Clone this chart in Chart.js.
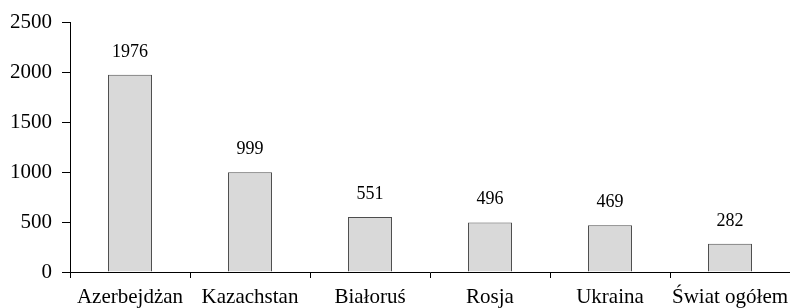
<!DOCTYPE html>
<html lang="pl">
<head>
    <meta charset="UTF-8">
    <title>Wykres</title>
    <style>
        html, body { margin: 0; padding: 0; background: #fff; }
        #wrap { width: 790px; height: 308px; }
    </style>
    <script src="https://cdn.jsdelivr.net/npm/chart.js"></script>
</head>
<body>
    <div id="wrap"><canvas id="chart" width="790" height="308"></canvas></div>

    <script>
        const categories = ['Azerbejdżan', 'Kazachstan', 'Białoruś', 'Rosja', 'Ukraina', 'Świat ogółem'];
        const values = [1976, 999, 551, 496, 469, 282];
        const yTicks = [0, 500, 1000, 1500, 2000, 2500];

        const serif = '"Liberation Serif", "Times New Roman", serif';

        // labels above the bars
        const valueLabels = {
            id: 'valueLabels',
            afterDatasetsDraw(chart) {
                const ctx = chart.ctx;
                const meta = chart.getDatasetMeta(0);
                ctx.save();
                ctx.fillStyle = '#000';
                ctx.font = '18px ' + serif;
                ctx.textAlign = 'center';
                ctx.textBaseline = 'middle';
                meta.data.forEach((bar, i) => {
                    ctx.fillText(values[i], bar.x, bar.y - 23);
                });
                ctx.restore();
            }
        };

        new Chart(document.getElementById('chart'), {
            type: 'bar',
            data: {
                labels: categories,
                datasets: [{
                    data: values,
                    backgroundColor: '#d9d9d9',
                    borderColor: '#4d4d4d',
                    borderWidth: 1,
                    categoryPercentage: 1,
                    barPercentage: 0.367
                }]
            },
            options: {
                responsive: false,
                animation: false,
                layout: { padding: { top: 22, right: 0, left: 0, bottom: 0 } },
                plugins: { legend: { display: false }, tooltip: { enabled: false } },
                scales: {
                    x: {
                        grid: { drawOnChartArea: false, tickLength: 6, color: '#000', offset: true },
                        border: { color: '#000', width: 1 },
                        ticks: { color: '#000', font: { family: serif, size: 21 }, padding: 7, maxRotation: 0, autoSkip: false },
                        afterFit(scale) {
                            scale.height = 36;
                            scale.paddingLeft = 0;
                            scale.paddingRight = 0;
                        }
                    },
                    y: {
                        min: 0,
                        max: 2500,
                        afterBuildTicks(scale) { scale.ticks = yTicks.map(v => ({ value: v })); },
                        grid: { drawOnChartArea: false, tickLength: 8, color: '#000' },
                        border: { color: '#000', width: 1 },
                        ticks: { color: '#000', font: { family: serif, size: 21 }, padding: 10, callback: v => String(v) },
                        afterFit(scale) { scale.width = 70; }
                    }
                }
            },
            plugins: [valueLabels]
        });
    </script>
</body>
</html>
